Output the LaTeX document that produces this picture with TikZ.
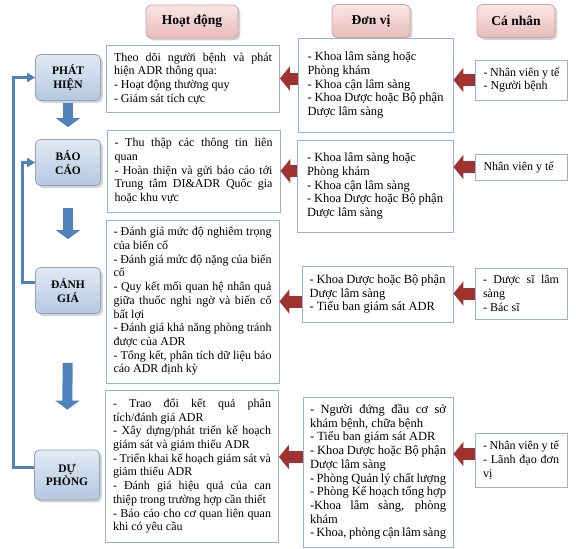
\documentclass[tikz,border=0pt]{standalone}
\usepackage{fontspec}
\setmainfont{Liberation Serif}
\usetikzlibrary{arrows.meta, positioning, calc, shadows}
\definecolor{cblue}{HTML}{4F81BD}
\definecolor{cred}{HTML}{A0332F}
\definecolor{cline}{HTML}{95B3D7}
\definecolor{hdtop}{HTML}{F9E6E5}
\definecolor{hdbot}{HTML}{E8BCBA}
\definecolor{hdline}{HTML}{C9A5A4}
\definecolor{sttop}{HTML}{E2EAF4}
\definecolor{stbot}{HTML}{B4C8E1}
\definecolor{stline}{HTML}{8EA3BD}
\tikzset{
  head/.style={draw=hdline, top color=hdtop, bottom color=hdbot, rounded corners=5pt, line width=0.8pt,
    font=\bfseries\fontsize{13.5}{15}\selectfont, minimum height=33, drop shadow={opacity=0.35}},
  stage/.style={draw=stline, top color=sttop, bottom color=stbot, rounded corners=5pt, line width=0.8pt,
    align=center, font=\bfseries\fontsize{11.5}{13.5}\selectfont, minimum width=65, minimum height=46,
    drop shadow={opacity=0.35}},
  txtbox/.style={draw=cline, fill=white, line width=0.9pt, align=justify,
    font=\fontsize{12}{13.7}\selectfont, inner ysep=4pt},
  act/.style={txtbox, text width=158, inner xsep=7.5pt},
  unit/.style={txtbox, font=\fontsize{12.5}{13.7}\selectfont, text width=136, inner xsep=7pt},
  pers/.style={txtbox, text width=76, inner xsep=8pt, minimum width=92},
  redarr/.style={-{Triangle[width=24pt,length=10pt]}, draw=cred, line width=12pt},
  downarr/.style={-{Triangle[width=24pt,length=9pt]}, draw=cblue, line width=10pt},
  loopline/.style={-{Triangle[width=9pt,length=8pt]}, draw=cblue, line width=3pt},
}
\begin{document}
\begin{tikzpicture}[x=1pt, y=-1pt]
  \useasboundingbox (0,0) rectangle (576,549);
  % column heads
  \node[head, minimum width=92] (hd) at (192,21.5) {Hoạt động};
  \node[head, minimum width=78] (dv) at (371,21) {Đơn vị};
  \node[head, minimum width=78] (cn) at (516,21) {Cá nhân};
  % stages
  \node[stage] (ph) at (68,77.5) {PHÁT\\HIỆN};
  \node[stage] (bc) at (68,162.5) {BÁO\\CÁO};
  \node[stage] (dg) at (68,290.5) {ĐÁNH\\GIÁ};
  \node[stage, minimum height=50] (dp) at (67,475) {DỰ\\PHÒNG};
  % activities
  \node[act, minimum height=67] (a1) at (193,78.5) {Theo dõi người bệnh và phát\linebreak hiện ADR thông qua:\\- Hoạt động thường quy\\- Giám sát tích cực};
  \node[act, minimum height=82] (a2) at (193.5,171) {- Thu thập các thông tin liên\linebreak quan\\- Hoàn thiện và gửi báo cáo tới\linebreak Trung tâm DI\&ADR Quốc gia\linebreak hoặc khu vực};
  \node[act, minimum height=163] (a3) at (192.5,301.5) {- Đánh giá mức độ nghiêm trọng\linebreak của biến cố\\- Đánh giá mức độ nặng của biến\linebreak cố\\- Quy kết mối quan hệ nhân quả\linebreak giữa thuốc nghi ngờ và biến cố\linebreak bất lợi\\- Đánh giá khả năng phòng tránh\linebreak được của ADR\\- Tổng kết, phân tích dữ liệu báo\linebreak cáo ADR định kỳ};
  \node[act, minimum height=152] (a4) at (192,466) {- Trao đổi kết quả phân\linebreak tích/đánh giá ADR\\- Xây dựng/phát triển kế hoạch\linebreak giám sát và giảm thiểu ADR\\- Triển khai kế hoạch giám sát và\linebreak giảm thiểu ADR\\- Đánh giá hiệu quả của can\linebreak thiệp trong trường hợp cần thiết\\- Báo cáo cho cơ quan liên quan\linebreak khi có yêu cầu};
  % units
  \node[unit, minimum width=155, minimum height=94] (u1) at (375.5,85) {- Khoa lâm sàng hoặc\\Phòng khám\\- Khoa cận lâm sàng\\- Khoa Dược hoặc Bộ phận\\Dược lâm sàng};
  \node[unit, minimum width=156, minimum height=92] (u2) at (375,186) {- Khoa lâm sàng hoặc\\Phòng khám\\- Khoa cận lâm sàng\\- Khoa Dược hoặc Bộ phận\\Dược lâm sàng};
  \node[unit, minimum width=151, minimum height=56] (u3) at (377.5,294) {- Khoa Dược hoặc Bộ phận\\Dược lâm sàng\\- Tiểu ban giám sát ADR};
  \node[unit, minimum width=150, minimum height=150] (u4) at (378,472) {- Người đứng đầu cơ sở\linebreak khám bệnh, chữa bệnh\\- Tiểu ban giám sát ADR\\- Khoa Dược hoặc Bộ phận\\Dược lâm sàng\\- Phòng Quản lý chất lượng\\- Phòng Kế hoạch tổng hợp\\-Khoa lâm sàng, phòng\linebreak khám\\- Khoa, phòng cận lâm sàng};
  % persons
  \node[pers, minimum height=40] (p1) at (521.5,80) {- Nhân viên y tế\\- Người bệnh};
  \node[pers, minimum height=26] (p2) at (521.5,167) {Nhân viên y tế};
  \node[pers, minimum height=51] (p3) at (521,293.5) {- Dược sĩ lâm\linebreak sàng\\- Bác sĩ};
  \node[pers, minimum height=54] (p4) at (521,460) {- Nhân viên y tế\\- Lãnh đạo đơn\linebreak vị};
  % red arrows
  \draw[redarr] (u1.west |- a1.east) -- (a1.east);
  \draw[redarr] (u2.west |- a2.east) -- (a2.east);
  \draw[redarr] (u3.west |- a3.east) -- (a3.east);
  \draw[redarr] ([yshift=9]a4.east -| u4.west) -- ([yshift=9]a4.east);
  \draw[redarr] (p1.west) -- (p1.west -| u1.east);
  \draw[redarr] (p2.west) -- (p2.west -| u2.east);
  \draw[redarr] (p3.west) -- (p3.west -| u3.east);
  \draw[redarr] ([yshift=6]p4.west) -- ([yshift=6]p4.west -| u4.east);
  % flow down
  \draw[downarr, shorten <=2, shorten >=12] (ph) -- (bc);
  \draw[downarr, shorten <=22, shorten >=28] (bc) -- (dg);
  \draw[downarr, shorten <=49, shorten >=40] (dg) -- (dp);
  % feedback
  \draw[loopline] ([yshift=8]dp.west) -- ++(-21,0) |- (ph.west);
  \draw[loopline] ([yshift=8]dg.west) -- ++(-13,0) |- (bc.west);
\end{tikzpicture}
\end{document}
